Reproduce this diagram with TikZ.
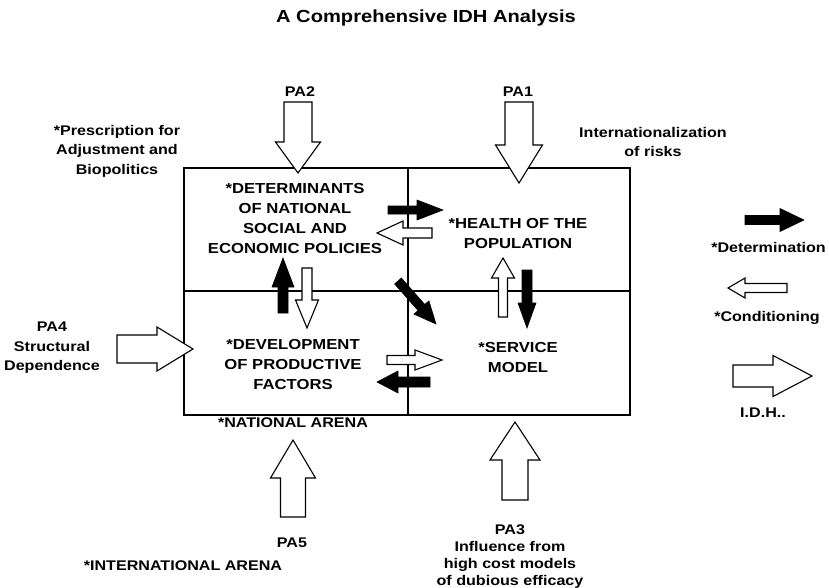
\documentclass[tikz,border=0pt]{standalone}
\usepackage{fontspec}
\setmainfont{Liberation Sans}[FakeStretch=1.15]
\usetikzlibrary{calc}
% #1 style, #2 name, #3 tail, #4 tip, #5 shaft half width, #6 head half width, #7 head length
\newcommand\blockarrow[7][]{%
  \coordinate (#2-t) at #3;
  \coordinate (#2-p) at #4;
  \coordinate (#2-h) at ($(#2-p)!#7!(#2-t)$);
  \draw[#1] ($(#2-t)!#5!90:(#2-p)$) -- ($(#2-h)!#5!90:(#2-p)$) -- ($(#2-h)!#6!90:(#2-p)$)
    -- (#2-p) -- ($(#2-h)!#6!-90:(#2-p)$) -- ($(#2-h)!#5!-90:(#2-p)$) -- ($(#2-t)!#5!-90:(#2-p)$) -- cycle;
}
\tikzset{
  quad/.style={draw, line width=1.4pt, inner sep=0pt, minimum width=#1},
  quad/.default=224pt,
  boxtext/.style={inner sep=0pt, align=center, font=\fontsize{14.5}{20}\selectfont\bfseries},
  lab/.style={inner sep=0pt, align=center, font=\fontsize{14}{19.5}\selectfont\bfseries},
  openarrow/.style={draw=black, fill=white, line width=1.1pt, line join=miter},
  solidarrow/.style={draw=black, fill=black, line width=0.6pt, line join=miter},
}
\begin{document}
\begin{tikzpicture}[x=1pt,y=-1pt]
\useasboundingbox (0,0) rectangle (829,588);

% title
\node[inner sep=0pt, font=\fontsize{17.5}{20}\selectfont\bfseries] (title) at (426,18) {A Comprehensive IDH Analysis};

% quadrants
\node[quad=224pt, minimum height=123pt] (detq) at (296,229.5) {};
\node[quad=222pt, minimum height=123pt] (healthq) at (519,229.5) {};
\node[quad=224pt, minimum height=124pt] (devq) at (296,353) {};
\node[quad=222pt, minimum height=124pt] (servq) at (519,353) {};

% box texts
\node[boxtext] (det) at (295,219) {*DETERMINANTS\\OF NATIONAL\\SOCIAL AND\\ECONOMIC POLICIES};
\node[boxtext] (health) at (518,234) {*HEALTH OF THE\\POPULATION};
\node[boxtext] (dev) at (293,365) {*DEVELOPMENT\\OF PRODUCTIVE\\FACTORS};
\node[boxtext] (serv) at (518,358) {*SERVICE\\MODEL};

% outside labels
\node[lab] (pa2) at (300,92) {PA2};
\node[lab] (pa1) at (518,92) {PA1};
\node[lab] (presc) at (117,151) {*Prescription for\\Adjustment and\\Biopolitics};
\node[lab] (intl) at (653,142) {Internationalization\\of risks};
\node[lab, anchor=east] (detl) at (826,247) {*Determination};
\node[lab] (condl) at (767,318) {*Conditioning};
\node[lab] (idhl) at (763,413) {I.D.H..};
\node[lab] (pa4) at (52,348) {PA4\\Structural\\Dependence};
\node[lab] (natl) at (293,423) {*NATIONAL ARENA};
\node[lab] (pa5) at (292,543) {PA5};
\node[lab] (intarena) at (183,566) {*INTERNATIONAL ARENA};
\node[lab, font=\fontsize{14}{17}\selectfont\bfseries] (pa3) at (510,557) {PA3\\Influence from\\high cost models\\of dubious efficacy};

% big input arrows
\blockarrow[openarrow]{pa2a}{(298,102)}{(298,173)}{14pt}{22.5pt}{31pt}
\blockarrow[openarrow]{pa1a}{(519,102)}{(519,183)}{14pt}{23.5pt}{38pt}
\blockarrow[openarrow]{pa4a}{(117,349)}{(193,349)}{14pt}{22pt}{36pt}
\blockarrow[openarrow]{pa5a}{(293,517)}{(293,440)}{12.5pt}{22.5pt}{38pt}
\blockarrow[openarrow]{pa3a}{(515,500)}{(515,422)}{13pt}{25pt}{38pt}

% legend arrows
\blockarrow[solidarrow]{detla}{(745,220)}{(804,220)}{4.5pt}{11.5pt}{24pt}
\blockarrow[openarrow]{condla}{(787,288)}{(728,288)}{4.5pt}{10pt}{17pt}
\blockarrow[openarrow]{idhla}{(733,376)}{(812,376)}{11pt}{20.5pt}{39pt}

% inner arrows
\blockarrow[solidarrow]{a1}{(388,210)}{(443,210)}{4pt}{10pt}{26pt}
\blockarrow[openarrow]{a2}{(432,233)}{(377,233)}{5pt}{12pt}{26pt}
\blockarrow[solidarrow]{a3}{(283,313)}{(283,258)}{5pt}{11pt}{29pt}
\blockarrow[openarrow]{a4}{(307,268)}{(307,328)}{5pt}{11.5pt}{28pt}
\blockarrow[solidarrow]{a5}{(398,281)}{(436,324)}{4.5pt}{10pt}{22pt}
\blockarrow[openarrow]{a6}{(387,360)}{(442,360)}{4.5pt}{10pt}{27pt}
\blockarrow[solidarrow]{a7}{(430,382)}{(377,382)}{5pt}{11pt}{21pt}
\blockarrow[openarrow]{a8}{(503,317)}{(503,258)}{4.5pt}{11.5pt}{20pt}
\blockarrow[solidarrow]{a9}{(527,270)}{(527,328)}{5pt}{9pt}{25pt}
\end{tikzpicture}
\end{document}
